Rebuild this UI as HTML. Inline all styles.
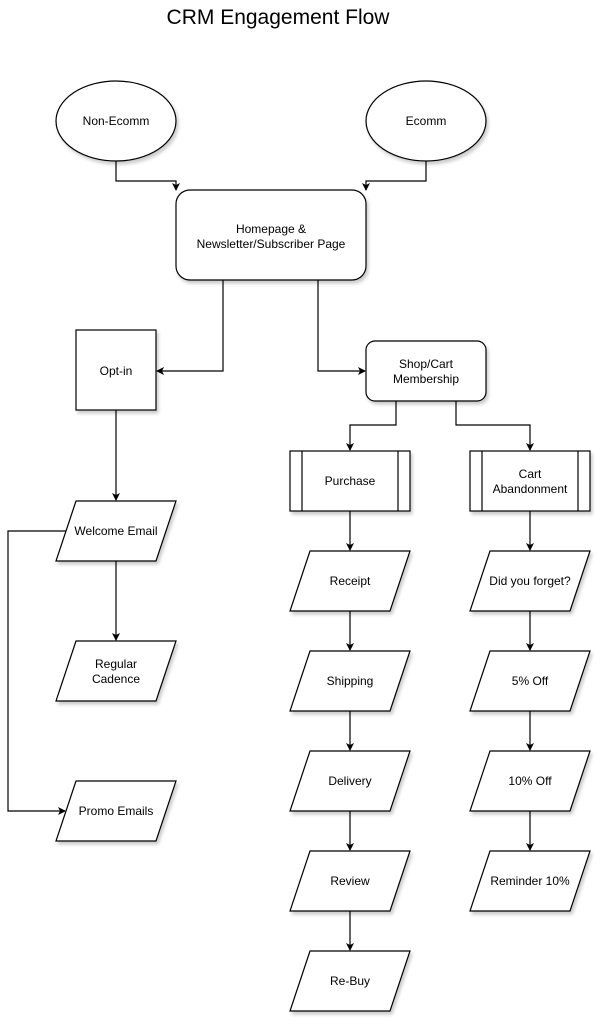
<!DOCTYPE html>
<html><head><meta charset="utf-8"><style>
body{margin:0;background:#fff;width:602px;height:1022px;overflow:hidden}
svg text{font-family:"Liberation Sans",Arial,sans-serif;font-size:12px;fill:#000}
</style></head><body>
<svg width="602" height="1022" viewBox="0 0 602 1022" xmlns="http://www.w3.org/2000/svg">
<defs>
<marker id="a" markerWidth="8" markerHeight="8" refX="7" refY="4" orient="auto" markerUnits="userSpaceOnUse">
<path d="M0,0 L8,4 L0,8 L2,4 Z" fill="#000"/></marker>
<filter id="s" x="-10%" y="-10%" width="130%" height="130%"><feDropShadow dx="2" dy="3" stdDeviation="1.5" flood-color="#000" flood-opacity="0.2"/></filter>
</defs>
<text x="278" y="24" text-anchor="middle" style="font-size:21px">CRM Engagement Flow</text>
<g fill="#fff" stroke="#000" stroke-width="1.2" filter="url(#s)">
<ellipse cx="116" cy="121" rx="60" ry="40"/>
<ellipse cx="426" cy="121" rx="60" ry="40"/>
<rect x="176" y="190" width="190" height="90" rx="14"/>
<rect x="76" y="330" width="80" height="80"/>
<rect x="366" y="341" width="120" height="60" rx="9"/>
<rect x="290" y="451" width="120" height="60"/>
<rect x="470" y="451" width="120" height="60"/>
<polygon points="76,501 176,501 156,561 56,561"/>
<polygon points="76,641 176,641 156,701 56,701"/>
<polygon points="76,781 176,781 156,841 56,841"/>
<polygon points="310,551 410,551 390,611 290,611"/>
<polygon points="310,651 410,651 390,711 290,711"/>
<polygon points="310,751 410,751 390,811 290,811"/>
<polygon points="310,851 410,851 390,911 290,911"/>
<polygon points="310,951 410,951 390,1011 290,1011"/>
<polygon points="490,551 590,551 570,611 470,611"/>
<polygon points="490,651 590,651 570,711 470,711"/>
<polygon points="490,751 590,751 570,811 470,811"/>
<polygon points="490,851 590,851 570,911 470,911"/>
</g>
<g stroke="#000" stroke-width="1.2" fill="none">
<line x1="302" y1="451" x2="302" y2="511"/><line x1="398" y1="451" x2="398" y2="511"/>
<line x1="482" y1="451" x2="482" y2="511"/><line x1="578" y1="451" x2="578" y2="511"/>
</g>
<g stroke="#000" stroke-width="1.2" fill="none" marker-end="url(#a)">
<polyline points="116,161 116,181 176,181 176,190"/>
<polyline points="426,161 426,181 366,181 366,190"/>
<polyline points="223,280 223,371 157,371"/>
<polyline points="318,280 318,371 365,371"/>
<polyline points="396,401 396,425 350,425 350,450"/>
<polyline points="456,401 456,425 530,425 530,450"/>
<line x1="116" y1="410" x2="116" y2="500"/>
<line x1="116" y1="561" x2="116" y2="640"/>
<polyline points="66,531 8,531 8,811 65,811"/>
<line x1="350" y1="511" x2="350" y2="550"/>
<line x1="350" y1="611" x2="350" y2="650"/>
<line x1="350" y1="711" x2="350" y2="750"/>
<line x1="350" y1="811" x2="350" y2="850"/>
<line x1="350" y1="911" x2="350" y2="950"/>
<line x1="530" y1="511" x2="530" y2="550"/>
<line x1="530" y1="611" x2="530" y2="650"/>
<line x1="530" y1="711" x2="530" y2="750"/>
<line x1="530" y1="811" x2="530" y2="850"/>
</g>
<g text-anchor="middle">
<text x="116" y="125">Non-Ecomm</text>
<text x="426" y="125">Ecomm</text>
<text x="271" y="233">Homepage &amp;</text>
<text x="271" y="248">Newsletter/Subscriber Page</text>
<text x="116" y="375">Opt-in</text>
<text x="426" y="368">Shop/Cart</text>
<text x="426" y="383">Membership</text>
<text x="350" y="485">Purchase</text>
<text x="530" y="478">Cart</text>
<text x="530" y="493">Abandonment</text>
<text x="116" y="535">Welcome Email</text>
<text x="116" y="668">Regular</text>
<text x="116" y="683">Cadence</text>
<text x="116" y="815">Promo Emails</text>
<text x="350" y="585">Receipt</text>
<text x="350" y="685">Shipping</text>
<text x="350" y="785">Delivery</text>
<text x="350" y="885">Review</text>
<text x="350" y="985">Re-Buy</text>
<text x="530" y="585">Did you forget?</text>
<text x="530" y="685">5% Off</text>
<text x="530" y="785">10% Off</text>
<text x="530" y="885">Reminder 10%</text>
</g>
</svg>
</body></html>
